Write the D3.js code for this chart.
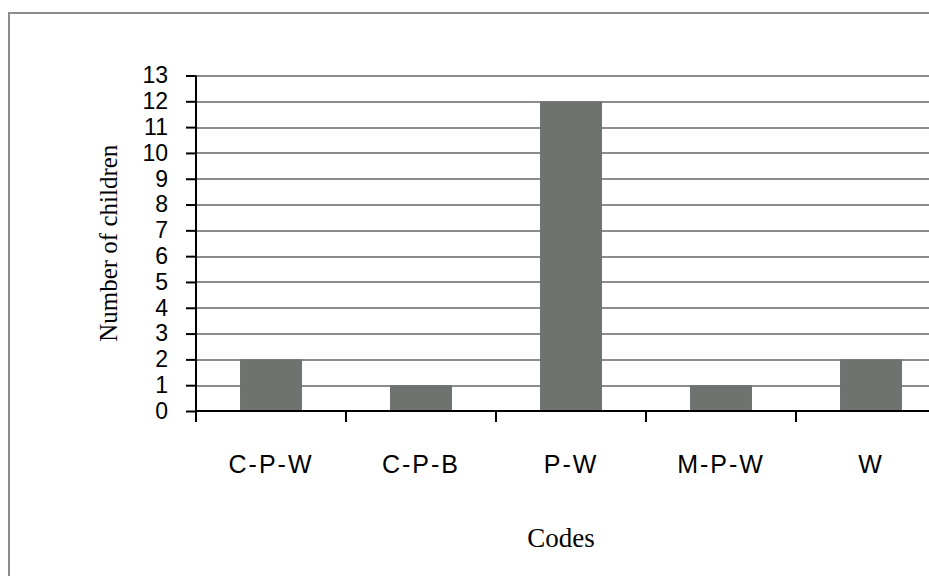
<!DOCTYPE html>
<html>
<head>
<meta charset="utf-8">
<script src="https://cdn.jsdelivr.net/npm/d3@7"></script>
<style>
  body { margin: 0; background: #fff; }
  svg { display: block; }
</style>
</head>
<body>
<div id="chart"></div>
<script>
// data
var codes = ["C-P-W", "C-P-B", "P-W", "M-P-W", "W"];
var children = [2, 1, 12, 1, 2];
var yTicks = d3.range(0, 14);

var W = 929, H = 576;
var margin = { top: 75.5, left: 196, bottom: 165 };
var plotH = H - margin.top - margin.bottom;
var bandW = 150;

var svg = d3.select("#chart").append("svg")
  .attr("width", W).attr("height", H);

// outer frame, running off the right and bottom edges
svg.append("rect")
  .attr("x", 9).attr("y", 13)
  .attr("width", W + 20).attr("height", H + 20)
  .attr("fill", "none")
  .attr("stroke", "#8c8c8c")
  .attr("stroke-width", 2);

var x = d3.scaleBand()
  .domain(codes)
  .range([0, bandW * codes.length])
  .paddingInner(0.587)
  .paddingOuter(0.2935);

var y = d3.scaleLinear().domain([0, 13]).range([plotH, 0]);

var g = svg.append("g")
  .attr("transform", "translate(" + margin.left + "," + margin.top + ")");

// gridlines
g.append("g").selectAll("line")
  .data(yTicks.filter(function (d) { return d > 0; }))
  .enter().append("line")
  .attr("x1", 0).attr("x2", W)
  .attr("y1", function (d) { return Math.round(y(d)) + 0.5; })
  .attr("y2", function (d) { return Math.round(y(d)) + 0.5; })
  .attr("stroke", "#8c8c8c")
  .attr("stroke-width", 2);

// bars
g.append("g").selectAll("rect")
  .data(children)
  .enter().append("rect")
  .attr("x", function (d, i) { return x(codes[i]); })
  .attr("width", x.bandwidth())
  .attr("y", function (d) { return y(d); })
  .attr("height", function (d) { return y(0) - y(d); })
  .attr("fill", "#6e7370");

// y axis
var yAxis = g.append("g")
  .call(d3.axisLeft(y).tickValues(yTicks).tickSize(10).tickPadding(18));
yAxis.select(".domain").attr("stroke", "#000").attr("stroke-width", 2)
  .attr("d", "M0," + (plotH + 10) + "V0");
yAxis.selectAll(".tick line").attr("stroke", "#000").attr("stroke-width", 2);
yAxis.selectAll("text")
  .attr("font-family", "'Liberation Sans', Arial, sans-serif")
  .attr("font-size", 23)
  .attr("fill", "#000");

// x axis
var xAxis = g.append("g")
  .attr("transform", "translate(0," + plotH + ")")
  .call(d3.axisBottom(x).tickSize(0));
xAxis.select(".domain").attr("stroke", "#000").attr("stroke-width", 2)
  .attr("d", "M0,0H" + W);
xAxis.selectAll("text")
  .attr("y", 62).attr("dy", null)
  .attr("font-family", "'Liberation Sans', Arial, sans-serif")
  .attr("font-size", 25)
  .attr("letter-spacing", 2)
  .attr("fill", "#000");

// separators between categories
g.append("g").selectAll("line")
  .data(d3.range(0, codes.length + 1))
  .enter().append("line")
  .attr("x1", function (d) { return d * bandW; })
  .attr("x2", function (d) { return d * bandW; })
  .attr("y1", plotH).attr("y2", plotH + 11)
  .attr("stroke", "#000").attr("stroke-width", 2);

// axis titles
svg.append("text")
  .attr("transform", "translate(117," + (margin.top + plotH / 2) + ") rotate(-90)")
  .attr("text-anchor", "middle")
  .attr("font-family", "'Liberation Serif', serif")
  .attr("font-size", 25)
  .text("Number of children");

svg.append("text")
  .attr("x", 561).attr("y", 547)
  .attr("text-anchor", "middle")
  .attr("font-family", "'Liberation Serif', serif")
  .attr("font-size", 27)
  .text("Codes");
</script>
</body>
</html>
